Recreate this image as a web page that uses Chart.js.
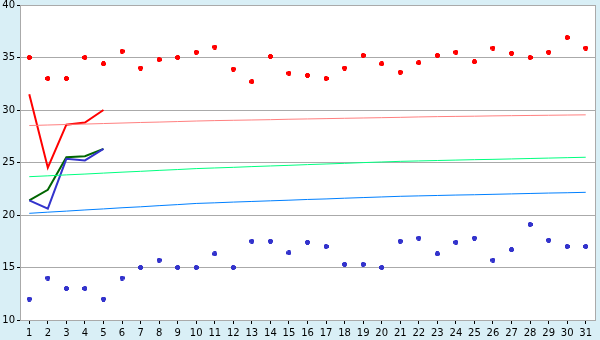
<!DOCTYPE html>
<html>
<head>
<meta charset="utf-8">
<script src="https://cdn.jsdelivr.net/npm/chart.js@4/dist/chart.umd.min.js"></script>
<style>
html,body{margin:0;padding:0;background:#d9eff6;}
canvas{display:block;}
</style>
</head>
<body>
<canvas id="c" width="600" height="340"></canvas>
<script>
// ---- data ----
const days = ['1','2','3','4','5','6','7','8','9','10','11','12','13','14','15','16','17','18','19','20','21','22','23','24','25','26','27','28','29','30','31'];
const yTicks = [10,15,20,25,30,35,40];

const redPoints  = [35,33,33,35,34.4,35.6,34,34.8,35,35.5,36,33.9,32.7,35.1,33.5,33.3,33,34,35.2,34.4,33.6,34.5,35.2,35.5,34.6,35.9,35.4,35,35.5,36.9,35.9];
const bluePoints = [12,14,13,13,12,14,15,15.7,15,15,16.3,15,17.5,17.5,16.4,17.4,17,15.3,15.3,15,17.5,17.8,16.3,17.4,17.8,15.7,16.7,19.1,17.6,17,17];

const redLine   = [31.5,24.5,28.6,28.8,30.0];
const greenLine = [21.4,22.4,25.5,25.6,26.3];
const blueLine  = [21.4,20.6,25.35,25.2,26.3];

const redTrend   = [28.52,28.57,28.62,28.66,28.71,28.76,28.81,28.85,28.90,28.95,28.99,29.02,29.05,29.08,29.12,29.15,29.18,29.21,29.24,29.27,29.30,29.34,29.37,29.39,29.41,29.44,29.46,29.48,29.50,29.52,29.54];
const greenTrend = [23.65,23.73,23.82,23.90,23.99,24.08,24.16,24.25,24.33,24.42,24.48,24.54,24.61,24.67,24.73,24.80,24.86,24.92,24.99,25.05,25.11,25.15,25.19,25.23,25.27,25.30,25.34,25.38,25.42,25.46,25.50];
const blueTrend  = [20.16,20.27,20.37,20.48,20.58,20.69,20.78,20.89,20.99,21.10,21.16,21.23,21.29,21.35,21.41,21.48,21.53,21.60,21.66,21.72,21.78,21.82,21.86,21.90,21.93,21.97,22.01,22.05,22.09,22.12,22.16];

// ---- marker images (style only) ----
function marker(color){
  const c = document.createElement('canvas');
  c.width = 5; c.height = 5;
  const g = c.getContext('2d');
  g.fillStyle = color;
  g.fillRect(1,0,3,5);
  g.fillRect(0,1,5,3);
  return c;
}
const redMark = marker('#ff0000');
const blueMark = marker('#3333cc');

const bgPlugin = {
  id: 'bg',
  beforeDraw(chart){
    const {ctx, chartArea:a} = chart;
    ctx.save();
    ctx.fillStyle = '#d9eff6';
    ctx.fillRect(0,0,chart.width,chart.height);
    ctx.fillStyle = '#ffffff';
    ctx.fillRect(a.left,a.top,a.right-a.left,a.bottom-a.top);
    ctx.restore();
  },
  beforeDatasetsDraw(chart){
    const {ctx, chartArea:a} = chart;
    ctx.save();
    ctx.strokeStyle = '#aaaaaa';
    ctx.lineWidth = 1;
    ctx.beginPath();
    ctx.moveTo(Math.round(a.right)+0.5, a.top);
    ctx.lineTo(Math.round(a.right)+0.5, a.bottom);
    ctx.stroke();
    ctx.restore();
  }
};

function lineDs(data, color, width){
  return {type:'line', data, borderColor:color, backgroundColor:color, borderWidth:width,
          pointRadius:0, pointHoverRadius:0, tension:0, fill:false, spanGaps:false};
}
function ptsDs(data, img){
  return {type:'line', data, showLine:false, pointStyle:img, pointRadius:3, pointHoverRadius:3,
          borderColor:'transparent', backgroundColor:'transparent'};
}

new Chart(document.getElementById('c'), {
  type: 'line',
  data: {
    labels: days,
    datasets: [
      lineDs(redTrend, '#ff8080', 1),
      lineDs(greenTrend, '#00ff80', 1),
      lineDs(blueTrend, '#0080ff', 1),
      lineDs(blueLine, '#3333cc', 2),
      lineDs(greenLine, '#006600', 2),
      lineDs(redLine, '#ff0000', 2),
      ptsDs(redPoints, redMark),
      ptsDs(bluePoints, blueMark)
    ]
  },
  options: {
    responsive: false,
    animation: false,
    events: [],
    layout: {padding: {top: 5, right: 5, left: 0, bottom: 0}},
    plugins: {legend: {display: false}, tooltip: {enabled: false}},
    scales: {
      x: {
        type: 'category',
        offset: true,
        grid: {display: true, drawOnChartArea: false, tickColor: '#000000', tickLength: 4, offset: false},
        border: {color: '#aaaaaa'},
        ticks: {color: '#000000', font: {family: 'DejaVu Sans', size: 10, lineHeight: 1}, padding: 4, maxRotation: 0, autoSkip: false},
        afterFit(s){ s.height = 20; s.paddingLeft = 0; s.paddingRight = 0; }
      },
      y: {
        min: 10, max: 40,
        afterBuildTicks(s){ s.ticks = yTicks.map(v => ({value: v})); },
        grid: {color: '#aaaaaa', tickColor: '#000000', tickLength: 3},
        border: {color: '#aaaaaa'},
        ticks: {color: '#000000', font: {family: 'DejaVu Sans', size: 10, lineHeight: 1}, padding: 2},
        afterFit(s){ s.width = 20; s.paddingTop = 0; s.paddingBottom = 0; }
      }
    }
  },
  plugins: [bgPlugin]
});
</script>
</body>
</html>
